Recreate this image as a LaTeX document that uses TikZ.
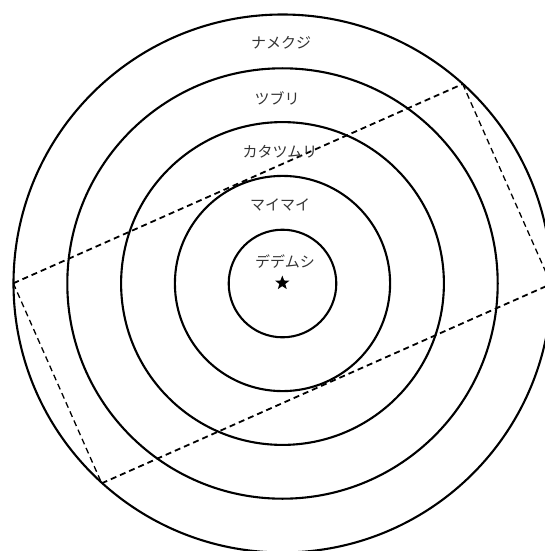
\documentclass[tikz,border=0pt]{standalone}
\usepackage{fontspec}
\newfontfamily\jp{Noto Sans CJK JP}
\usetikzlibrary{shapes.geometric}
\begin{document}
\begin{tikzpicture}[x=1pt,y=-1pt,
  ring/.style={circle,draw,line width=2.1pt,inner sep=0pt,outer sep=0pt},
  lbl/.style={font=\jp\fontsize{15}{15}\selectfont, text=black!80, inner sep=0pt},
  longside/.style={dash pattern=on 6pt off 4pt, line width=1.8pt},
  shortside/.style={dash pattern=on 6pt off 4pt, line width=1.3pt},
  starmark/.style={star, star points=5, star point ratio=2.4, fill=black, draw=none, minimum size=15pt, inner sep=0pt}]
\useasboundingbox (0,0) rectangle (545,551);
\clip (0,0) rectangle (545,551);
\coordinate (O) at (282.5,283.5);
\foreach \k in {1,...,5} {
  \node[ring, minimum size=\k*107.6pt] (c\k) at (O) {};
}
% dashed rectangle corners
\coordinate (L) at (13.3,283.3);
\coordinate (T) at (462.7,84);
\coordinate (B) at (101.7,483.3);
\coordinate (R) at (551.1,284);
\draw[longside] (L) -- (T);
\draw[longside] (B) -- (R);
\draw[shortside] (T) -- (R);
\draw[shortside] (L) -- (B);
% labels
\node[lbl] (n5) at (281,43) {ナメクジ};
\node[lbl] (n4) at (277,98) {ツブリ};
\node[lbl] (n3) at (280,152) {カタツムリ};
\node[lbl] (n2) at (280,205) {マイマイ};
\node[lbl] (n1) at (285,262) {デデムシ};
\node[starmark] (s) at (282.3,283) {};
\end{tikzpicture}
\end{document}
